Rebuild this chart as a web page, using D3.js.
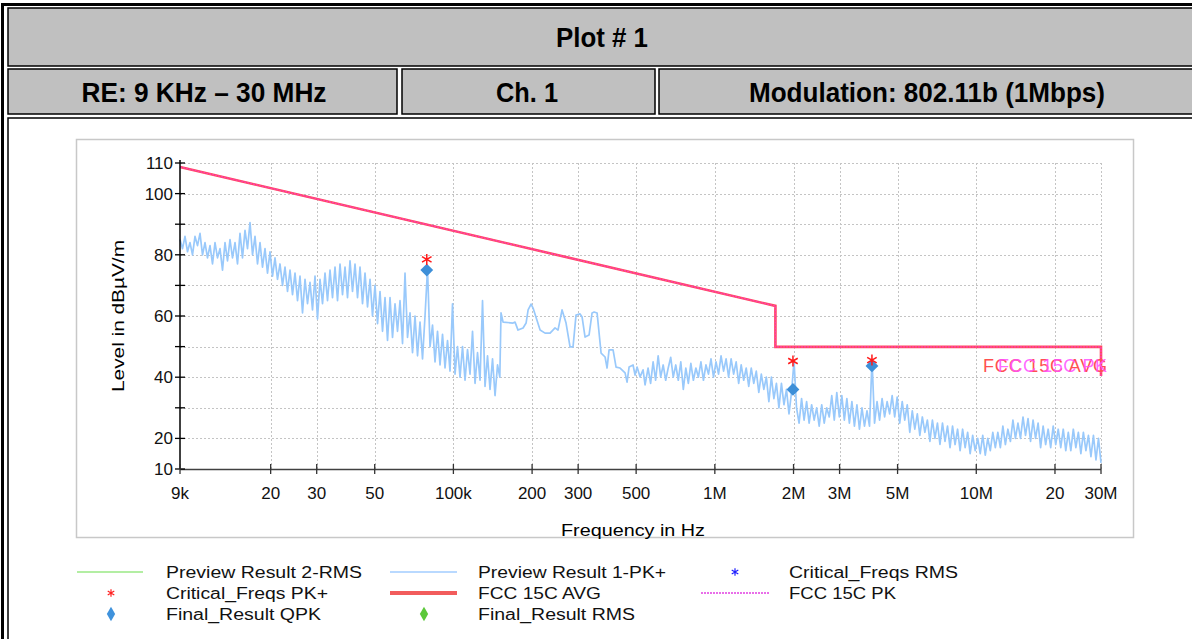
<!DOCTYPE html>
<html><head><meta charset="utf-8">
<script src="https://cdn.jsdelivr.net/npm/d3@7"></script>
<style>html,body{margin:0;padding:0;background:#fff;overflow:hidden}</style>
</head><body><svg id="c" width="1192" height="639"></svg>
<script>
// ---------- data ----------
const headerTitle = "Plot # 1";
const headerCells = ["RE: 9 KHz – 30 MHz", "Ch. 1", "Modulation: 802.11b (1Mbps)"];
const xLabel = "Frequency in Hz";
const yLabel = "Level in dBµV/m";
const yTicks = [10, 20, 30, 40, 50, 60, 70, 80, 90, 100, 110];
const yTickLabels = [10, 20, 40, 60, 80, 100, 110];
const xTicks = [9e3, 2e4, 3e4, 5e4, 1e5, 2e5, 3e5, 5e5, 1e6, 2e6, 3e6, 5e6, 1e7, 2e7, 3e7];
const xTickLabels = ["9k", "20", "30", "50", "100k", "200", "300", "500", "1M", "2M", "3M", "5M", "10M", "20", "30M"];

// FCC 15C limit lines (Hz, dBµV/m)
const limitFreqs = [9e3, 1.705e6, 1.705e6, 3e7, 3e7];
const limitAvg = [108.7, 63.3, 49.9, 49.9, 40.4];
const limitPk = [108.7, 63.3, 49.9, 49.9, 40.4];
const limitNames = ["FCC 15C AVG", "FCC 15C PK"];

// Preview Result 1-PK+ : segment 1 (9 kHz .. 147.5 kHz, log-spaced readings)
const pkSeg1Range = [9e3, 147.5e3];
const pkSeg1 = [
  85, 82, 86, 81,   84, 80, 86, 83,   87, 80, 84, 79,   83, 77, 84, 79,
  82, 75, 84, 78,   85, 79, 84, 77,   87, 79, 88, 82,   90.5, 80, 86, 77,
  84, 76, 82, 74,   81, 73, 79, 72,   77, 70, 76, 68,   75, 67, 74, 65,
  73, 61, 72, 64,   71, 62, 73, 59,   72, 64, 74, 65,   75, 66, 76, 65,
  77, 67, 76, 66,   78, 68, 77, 66,   76, 64, 74, 63,   72, 60, 70, 57.5,
  68, 55, 66, 52,   66, 53, 64, 55,   65, 51, 74, 53,   61, 48, 60, 47,
  58, 46, 60, 75.5, 50, 57, 45, 55,   44, 54, 43, 52,   42, 64, 41, 50,
  40, 50, 39, 49,   41, 55, 38, 48,   39, 65, 37, 47,   36, 46, 34, 44
];
// segment 2 (150 kHz .. 555 kHz), frequency in kHz and level
const pkSeg2Freq = [150.5, 152.1, 154.9, 169.1, 172.1, 176.7, 184.7, 189.7, 193.1, 198.2, 201.7, 214.6, 224.2, 234.3, 244.8, 251.3, 260.4, 269.7, 279.4, 286.8, 294.5, 305.1, 310.6, 318.9, 330.4, 339.2, 345.3, 354.5, 367.2, 380.4, 387.1, 394.0, 408.1, 419.0, 434.1, 453.6, 461.6, 469.9, 486.7, 495.4, 504.2, 517.7, 531.5, 541.0, 555.5];
const pkSeg2 = [40, 61.0, 58.0, 57.7, 58.0, 55.4, 56.1, 57.7, 62.0, 63.9, 62.6, 55.4, 54.4, 54.4, 56.1, 55.4, 62.0, 57.7, 49.9, 49.9, 60.3, 60.7, 59.7, 53.1, 53.8, 61.0, 61.3, 61.0, 47.9, 46.6, 43.0, 48.9, 48.9, 43.3, 43.0, 41.4, 38.4, 43.3, 44.0, 40.7, 43.3, 40.1, 42.4, 37.5, 43];
// segment 3 (555.5 kHz .. 30 MHz, log-spaced readings)
const pkSeg3Range = [555.5e3, 30e6];
const pkSeg3 = [
  44, 38, 45, 39,   47, 40, 44, 39,   43, 46.5, 40, 44,  39, 45, 36, 43,
  38, 44.5, 39, 43, 40, 45, 39, 44,   41, 46, 40, 45,   41, 47, 42, 46,
  40, 46, 41, 45,   38, 44, 39, 43,   37, 43, 38, 42,   35, 41, 36, 40,
  32, 40, 33, 38,   30, 38, 31, 36,   28, 35, 45.3, 30, 25, 33, 26, 32,
  25, 31, 26, 30,   24, 31, 25, 30,   27, 34, 26, 35,   27, 34, 26, 33,
  25, 32, 24, 31,   23, 30, 24, 29,   24, 45.6, 25, 32, 26, 33, 27, 32,
  28, 34, 27, 33.5, 25, 32, 26, 31,   22, 29, 23, 28,   21, 27, 22, 26,
  19, 26, 20, 25,   18, 25, 19, 24,   17, 24, 18, 23,   16, 23, 17, 22,
  15, 21, 16, 20,   15, 21, 14.5, 20, 16, 22, 17, 22,   17, 24, 18, 23,
  19, 26, 20, 25,   20, 27, 21, 26.5, 19, 26, 20, 25,   17, 24, 18, 23,
  17, 24, 18, 23,   17, 23, 16, 22,   16, 23, 17, 22,   15, 22, 16, 21,
  14, 21, 13, 20,   12
];

// Critical frequencies and final results
const critFreqs = [79.1e3, 1.99e6, 3.99e6];
const critPk = [78.5, 45.3, 45.6];
const finalQpk = [75.0, 36.0, 43.7];

// Legend
const legendLabels = ["Preview Result 2-RMS", "Preview Result 1-PK+", "Critical_Freqs RMS",
                      "Critical_Freqs PK+", "FCC 15C AVG", "FCC 15C PK",
                      "Final_Result QPK", "Final_Result RMS"];
const legendKinds = ["line", "line", "asterisk", "asterisk", "line", "dotline", "diamond", "diamond"];
const legendColors = ["#b3eea3", "#b9d9ff", "#1f1fff", "#ff2020", "#f25c5c", "#e23fe2", "#3f92dc", "#5cc83a"];
const legendWidths = [196, 188, 169, 162, 123, 107, 155, 157];

// ---------- drawing ----------
const svg = d3.select("#c");
const W = 1192, H = 639;
const narrow = "'Liberation Sans Narrow','Arial Narrow','Liberation Sans',Arial,sans-serif";
const sans = "'Liberation Sans',Arial,sans-serif";

// header table
const gray = "#c0c0c0";
svg.append("rect").attr("x", 2.5).attr("y", 4.5).attr("width", W + 10).attr("height", H + 10)
  .attr("fill", "#fff").attr("stroke", "#000").attr("stroke-width", 3);
svg.append("rect").attr("x", 8).attr("y", 8).attr("width", W + 10).attr("height", 58)
  .attr("fill", gray).attr("stroke", "#000").attr("stroke-width", 1.5);
const cellX = [8, 402, 659], cellW = [389, 253, 560];
cellX.forEach((cx, i) => {
  svg.append("rect").attr("x", cx).attr("y", 69).attr("width", cellW[i]).attr("height", 45)
    .attr("fill", gray).attr("stroke", "#000").attr("stroke-width", 1.5);
});
svg.append("rect").attr("x", 8).attr("y", 118).attr("width", W + 10).attr("height", H)
  .attr("fill", "#fff").attr("stroke", "#000").attr("stroke-width", 1.5);

svg.append("text").attr("x", 602).attr("y", 47).attr("text-anchor", "middle")
  .attr("font-family", narrow).attr("font-weight", "bold").attr("font-size", 27)
  .attr("textLength", 92).attr("lengthAdjust", "spacingAndGlyphs").text(headerTitle);
const hdrCx = [204, 527, 927], hdrW = [245, 62, 356];
headerCells.forEach((t, i) => {
  svg.append("text").attr("x", hdrCx[i]).attr("y", 102).attr("text-anchor", "middle")
    .attr("font-family", narrow).attr("font-weight", "bold").attr("font-size", 27)
    .attr("textLength", hdrW[i]).attr("lengthAdjust", "spacingAndGlyphs").text(t);
});

// chart frame
svg.append("rect").attr("x", 76.5).attr("y", 139.5).attr("width", 1057).attr("height", 398)
  .attr("fill", "#fff").attr("stroke", "#c8c8c8").attr("stroke-width", 1.5);

const x = d3.scaleLog().domain([9e3, 3e7]).range([180, 1101]);
const y = d3.scaleLinear().domain([10, 110]).range([469, 163]);

// grid
const grid = svg.append("g").attr("stroke", "#c4c4c4").attr("stroke-width", 1).attr("stroke-dasharray", "2,2");
yTicks.filter(v => v > 10).forEach(v => {
  grid.append("line").attr("x1", 180).attr("x2", 1101).attr("y1", Math.round(y(v)) + 0.5).attr("y2", Math.round(y(v)) + 0.5);
});
xTicks.filter(v => v > 9e3).forEach(v => {
  grid.append("line").attr("x1", Math.round(x(v)) + 0.5).attr("x2", Math.round(x(v)) + 0.5).attr("y1", 163).attr("y2", 469);
});

// limit lines
const limLine = d3.line().x(d => x(d[0])).y(d => y(d[1]));
svg.append("path").datum(limitFreqs.map((f, i) => [f, limitAvg[i]])).attr("d", limLine)
  .attr("fill", "none").attr("stroke", "#ff4a5c").attr("stroke-width", 2.6);
svg.append("path").datum(limitFreqs.map((f, i) => [f, limitPk[i]])).attr("d", limLine)
  .attr("fill", "none").attr("stroke", "#ff3fb0").attr("stroke-width", 1.4).attr("stroke-dasharray", "2,1");

// PK+ trace
function spread(range, vals) {
  const n = vals.length, r = range[1] / range[0];
  return vals.map((v, i) => [range[0] * Math.pow(r, i / (n - 1)), v]);
}
const trace = [].concat(
  spread(pkSeg1Range, pkSeg1),
  pkSeg2Freq.map((f, i) => [f * 1e3, pkSeg2[i]]),
  spread(pkSeg3Range, pkSeg3).slice(1)
);
svg.append("path").datum(trace).attr("d", d3.line().x(d => x(d[0])).y(d => y(d[1])))
  .attr("fill", "none").attr("stroke", "#99c9fb").attr("stroke-width", 1.7).attr("stroke-linejoin", "round");

// limit labels (overlapping, as in the original)
svg.append("text").attr("x", 1107).attr("y", 372).attr("text-anchor", "end")
  .attr("font-family", sans).attr("font-size", 18).attr("fill", "#ff5050")
  .attr("textLength", 124).attr("lengthAdjust", "spacing").text(limitNames[0]);
svg.append("text").attr("x", 1107).attr("y", 372).attr("text-anchor", "end")
  .attr("font-family", sans).attr("font-size", 18).attr("fill", "#ff50ff").attr("fill-opacity", 0.85)
  .attr("textLength", 109).attr("lengthAdjust", "spacing").text(limitNames[1]);

// final QPK diamonds
const diamond = d3.symbol().type(d3.symbolSquare).size(82);
critFreqs.forEach((f, i) => {
  svg.append("path").attr("d", diamond())
    .attr("transform", `translate(${x(f)},${y(finalQpk[i])}) rotate(45)`).attr("fill", "#3d8fd8");
});
// critical PK+ asterisks
const aster = d3.symbol().type(d3.symbolAsterisk).size(85);
critFreqs.forEach((f, i) => {
  svg.append("path").attr("d", aster()).attr("transform", `translate(${x(f)},${y(critPk[i])})`)
    .attr("fill", "none").attr("stroke", "#ff1a1a").attr("stroke-width", 1.5);
});

// axes
const axG = svg.append("g");
axG.append("line").attr("x1", 180).attr("x2", 180).attr("y1", 160).attr("y2", 469).attr("stroke", "#000").attr("stroke-width", 1.5);
axG.append("line").attr("x1", 180).attr("x2", 1101).attr("y1", 469.5).attr("y2", 469.5).attr("stroke", "#404040").attr("stroke-width", 1.5);
yTicks.forEach(v => {
  axG.append("line").attr("x1", 175).attr("x2", 185).attr("y1", y(v)).attr("y2", y(v)).attr("stroke", "#000").attr("stroke-width", 1.3);
});
yTickLabels.forEach(v => {
  axG.append("text").attr("x", 173).attr("y", y(v) + 6).attr("text-anchor", "end")
    .attr("font-family", sans).attr("font-size", 17).attr("fill", "#111").text(v);
});
xTicks.forEach((v, i) => {
  axG.append("line").attr("x1", x(v)).attr("x2", x(v)).attr("y1", 464).attr("y2", 474).attr("stroke", "#333").attr("stroke-width", 1.3);
  axG.append("text").attr("x", x(v)).attr("y", 499).attr("text-anchor", "middle")
    .attr("font-family", sans).attr("font-size", 17).attr("fill", "#111").text(xTickLabels[i]);
});
svg.append("text").attr("x", 633).attr("y", 536).attr("text-anchor", "middle")
  .attr("font-family", sans).attr("font-size", 17).attr("textLength", 144).attr("lengthAdjust", "spacingAndGlyphs").text(xLabel);
svg.append("text").attr("transform", "translate(124,316) rotate(-90)").attr("text-anchor", "middle")
  .attr("font-family", sans).attr("font-size", 17).attr("textLength", 152).attr("lengthAdjust", "spacingAndGlyphs").text(yLabel);

// legend
const colTextX = [166, 478, 789], colSym = [[77, 143], [390, 457], [701, 769]], colPt = [111, 424, 735];
const rowY = [572, 593, 614];
legendLabels.forEach((lab, i) => {
  const c = i % 3, r = Math.floor(i / 3), yy = rowY[r];
  const k = legendKinds[i], col = legendColors[i];
  if (k === "line" || k === "dotline") {
    const ln = svg.append("line").attr("x1", colSym[c][0]).attr("x2", colSym[c][1]).attr("y1", yy).attr("y2", yy)
      .attr("stroke", col).attr("stroke-width", lab === "FCC 15C AVG" ? 4 : (k === "dotline" ? 1.3 : 2));
    if (k === "dotline") ln.attr("stroke-dasharray", "2,1");
  } else if (k === "asterisk") {
    svg.append("path").attr("d", d3.symbol().type(d3.symbolAsterisk).size(40)())
      .attr("transform", `translate(${colPt[c]},${yy})`).attr("fill", "none").attr("stroke", col).attr("stroke-width", 1.2);
  } else {
    svg.append("path").attr("d", d3.symbol().type(d3.symbolDiamond).size(60)())
      .attr("transform", `translate(${colPt[c]},${yy})`).attr("fill", col);
  }
  svg.append("text").attr("x", colTextX[c]).attr("y", yy + 6).attr("font-family", sans).attr("font-size", 16)
    .attr("fill", "#111").attr("textLength", legendWidths[i]).attr("lengthAdjust", "spacingAndGlyphs").text(lab);
});
</script>
</body></html>
